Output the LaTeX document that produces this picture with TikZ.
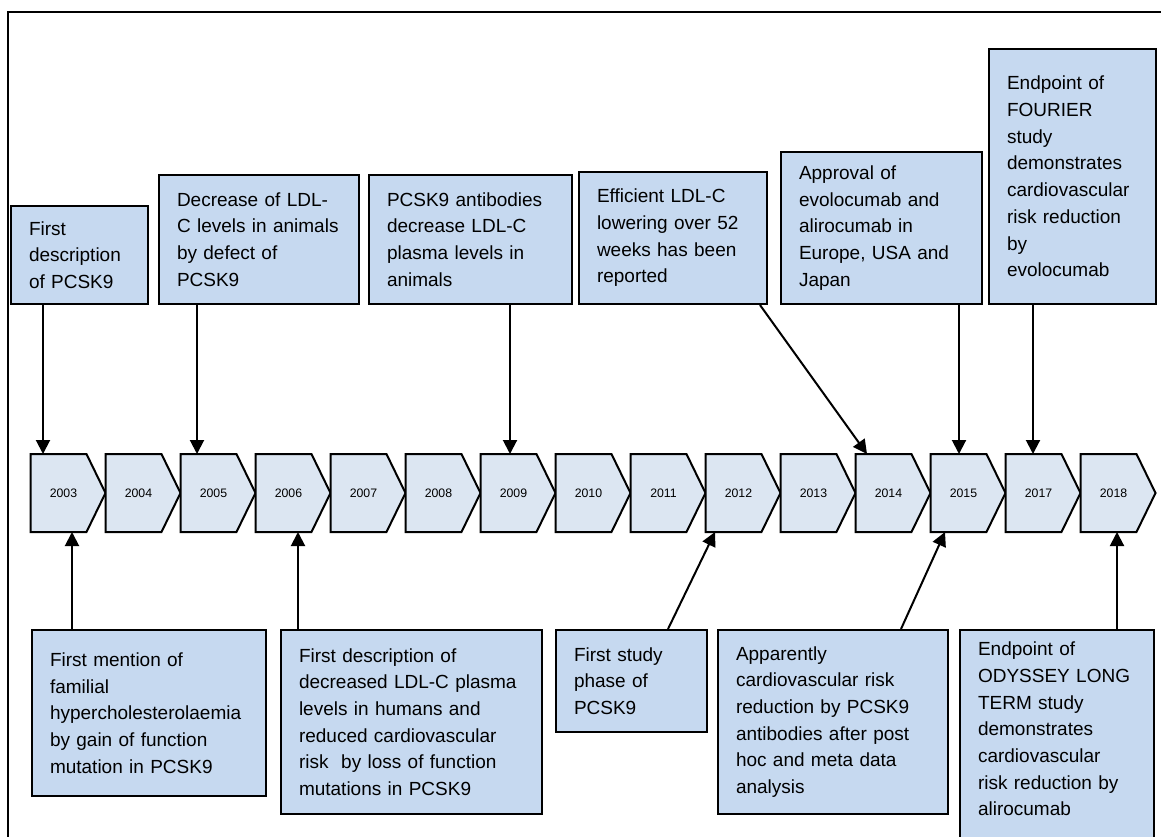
\documentclass[tikz,border=0pt]{standalone}
\usepackage{fontspec}
\setmainfont{Liberation Sans}
\usetikzlibrary{positioning}
\usetikzlibrary{calc}
\usetikzlibrary{arrows.meta}
\usetikzlibrary{shapes.symbols}
\definecolor{boxblue}{RGB}{198,217,240}
\definecolor{yearblue}{RGB}{220,230,242}

\begin{document}
\begin{tikzpicture}[x=0.5pt, y=-0.5pt,
        eventbox/.style={draw, fill=boxblue, line width=1pt, align=left, inner xsep=9pt, font=\fontsize{9.5}{13.35}\selectfont},
        yearbox/.style={draw, fill=yearblue, line width=1pt, signal, signal to=east, signal pointer angle=128, minimum width=37.5pt, minimum height=39pt, inner sep=0pt, outer sep=0pt, execute at begin node=\hspace{5pt}, font=\fontsize{6.15}{7}\selectfont},
        arr/.style={-{Triangle[length=7pt, width=7pt]}, line width=1pt}]
        \clip (0,0) rectangle (1161,836);
        \draw[line width=1pt] (8,850) -- (8,12) -- (1170,12);

        % time line
        \node[yearbox, anchor=west] (y2003) at (30.5,493) {2003};
        \node[yearbox, right = 0pt of y2003] (y2004) {2004};
        \node[yearbox, right = 0pt of y2004] (y2005) {2005};
        \node[yearbox, right = 0pt of y2005] (y2006) {2006};
        \node[yearbox, right = 0pt of y2006] (y2007) {2007};
        \node[yearbox, right = 0pt of y2007] (y2008) {2008};
        \node[yearbox, right = 0pt of y2008] (y2009) {2009};
        \node[yearbox, right = 0pt of y2009] (y2010) {2010};
        \node[yearbox, right = 0pt of y2010] (y2011) {2011};
        \node[yearbox, right = 0pt of y2011] (y2012) {2012};
        \node[yearbox, right = 0pt of y2012] (y2013) {2013};
        \node[yearbox, right = 0pt of y2013] (y2014) {2014};
        \node[yearbox, right = 0pt of y2014] (y2015) {2015};
        \node[yearbox, right = 0pt of y2015] (y2017) {2017};
        \node[yearbox, right = 0pt of y2017] (y2018) {2018};

        % events above
        \node[eventbox, anchor=south west, text width=50.5pt, minimum height=49pt] (top1) at (10,305) {First\\description\\of PCSK9};
        \node[eventbox, anchor=south west, text width=82pt, minimum height=64.5pt] (top2) at (158,305) {Decrease of LDL-\\C levels in animals\\by defect of\\PCSK9};
        \node[eventbox, anchor=south west, text width=83.5pt, minimum height=64.5pt] (top3) at (368,305) {PCSK9 antibodies\\decrease LDL-C\\plasma levels in\\animals};
        \node[eventbox, anchor=south west, text width=76pt, minimum height=66pt] (top4) at (578,305) {Efficient LDL-C\\lowering over 52\\weeks has been\\reported};
        \node[eventbox, anchor=south west, text width=82.5pt, minimum height=76pt] (top5) at (780,305) {Approval of\\evolocumab and\\alirocumab in\\Europe, USA and\\Japan};
        \node[eventbox, anchor=south west, text width=65.5pt, minimum height=127.5pt] (top6) at (988,305) {Endpoint of\\FOURIER\\study\\demonstrates\\cardiovascular\\risk reduction\\by\\evolocumab};

        % events below
        \node[eventbox, anchor=north west, text width=99pt, minimum height=83pt] (bot1) at (31,629) {First mention of\\familial\\hypercholesterolaemia\\by gain of function\\mutation in PCSK9};
        \node[eventbox, anchor=north west, text width=112.5pt, minimum height=92pt] (bot2) at (280,629) {First description of\\decreased LDL-C plasma\\levels in humans and\\reduced cardiovascular\\risk\ \ by loss of function\\mutations in PCSK9};
        \node[eventbox, anchor=north west, text width=57.5pt, minimum height=51pt] (bot3) at (555,629) {First study\\phase of\\PCSK9};
        \node[eventbox, anchor=north west, text width=97pt, minimum height=92pt] (bot4) at (717,629) {Apparently\\cardiovascular risk\\reduction by PCSK9\\antibodies after post\\hoc and meta data\\analysis};
        \node[eventbox, anchor=north west, text width=79pt, inner ysep=6pt, text depth=100pt] (bot5) at (959,629) {Endpoint of\\ODYSSEY LONG\\TERM study\\demonstrates\\cardiovascular\\risk reduction by\\alirocumab};

        \draw[arr] ($(top1.south west)+(33,0)$) -- ($(y2003.north west)+(12.5,0)$);
        \draw[arr] ($(top2.south west)+(39,0)$) -- ($(y2005.north west)+(16.5,0)$);
        \draw[arr] ($(top3.south west)+(142,0)$) -- ($(y2009.north west)+(29.5,0)$);
        \draw[arr] ($(top4.south west)+(182,0)$) -- ($(y2014.north west)+(11.5,0)$);
        \draw[arr] ($(top5.south west)+(179,0)$) -- ($(y2015.north west)+(28.5,0)$);
        \draw[arr] ($(top6.south west)+(45,0)$) -- ($(y2017.north west)+(27.5,0)$);

        \draw[arr] ($(bot1.north west)+(41,0)$) -- ($(y2003.south west)+(41.5,0)$);
        \draw[arr] ($(bot2.north west)+(18,0)$) -- ($(y2006.south west)+(42.5,0)$);
        \draw[arr] ($(bot3.north west)+(113,0)$) -- ($(y2012.south west)+(9.5,0)$);
        \draw[arr] ($(bot4.north west)+(184,0)$) -- ($(y2015.south west)+(14.5,0)$);
        \draw[arr] ($(bot5.north west)+(158,0)$) -- ($(y2018.south west)+(36.5,0)$);
    \end{tikzpicture}
\end{document}
